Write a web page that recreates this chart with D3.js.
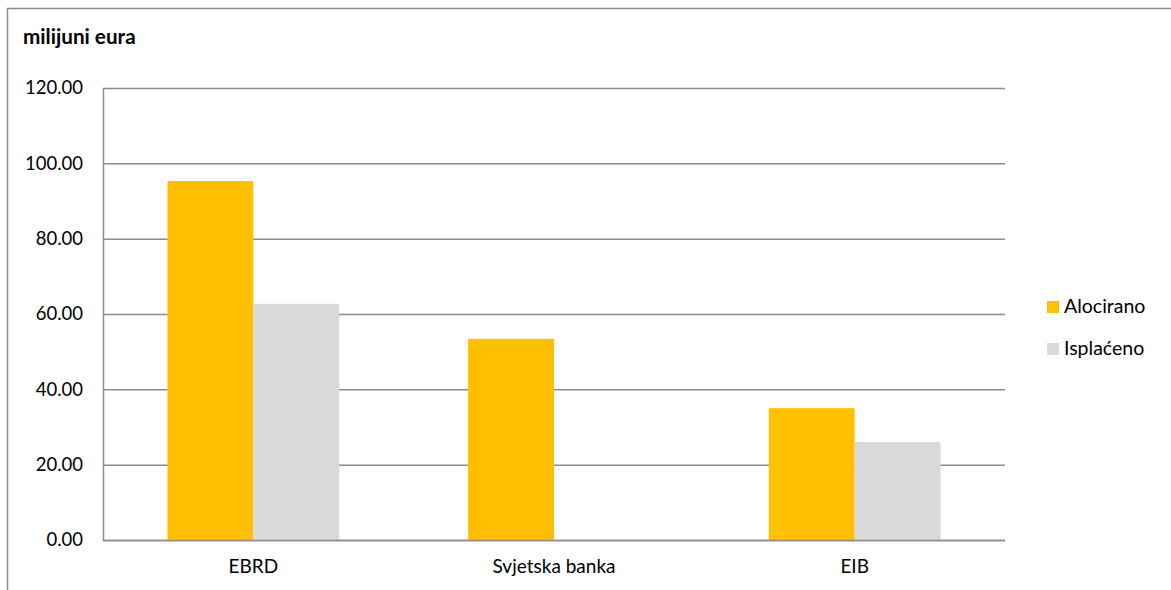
<!DOCTYPE html>
<html><head><meta charset="utf-8">
<script src="https://cdn.jsdelivr.net/npm/d3@7"></script>
<style>body{margin:0;background:#fff}svg{display:block;font-family:Lato,"Open Sans",sans-serif}</style>
</head><body><svg id="c" width="1171" height="590"></svg>
<script>
const categories = ["EBRD", "Svjetska banka", "EIB"];
const seriesNames = ["Alocirano", "Isplaćeno"];
const alocirano = [95.3, 53.4, 35.0];
const isplaceno = [62.7, 0, 26.0];
const yTicks = [0, 20, 40, 60, 80, 100, 120];
const colors = ["#FFC000", "#D9D9D9"];

const svg = d3.select("#c");
const m = {l:103, r:1005, t:88, b:540};
// outer frame (left + top)
svg.append("path").attr("d","M7.5,590 V8.5 H1171").attr("fill","none").attr("stroke","#8c8c8c").attr("stroke-width",1.5);

const y = d3.scaleLinear().domain([0,120]).range([m.b,m.t]);
const x = d3.scaleBand().domain(categories).range([m.l,m.r]);
const xs = d3.scaleBand().domain(seriesNames).range([0,x.bandwidth()]).paddingInner(0).paddingOuter(0.75);

// gridlines
svg.append("g").selectAll("line").data(yTicks).join("line")
  .attr("x1",m.l).attr("x2",m.r).attr("y1",d=>y(d)+0.5).attr("y2",d=>y(d)+0.5)
  .attr("stroke","#8c8c8c").attr("stroke-width",1.5);

const data = categories.map((c,i)=>({c, vals:[alocirano[i], isplaceno[i]]}));
const g = svg.append("g");
data.forEach(d=>{
  d.vals.forEach((v,j)=>{
    if(v<=0) return;
    g.append("rect").attr("x",x(d.c)+xs(seriesNames[j])).attr("width",xs.bandwidth())
      .attr("y",y(v)).attr("height",y(0)-y(v)).attr("fill",colors[j]);
  });
});
// axis lines
svg.append("line").attr("x1",m.l+0.5).attr("x2",m.l+0.5).attr("y1",m.t).attr("y2",m.b+1).attr("stroke","#8c8c8c").attr("stroke-width",1.5);
svg.append("line").attr("x1",m.l).attr("x2",m.r).attr("y1",m.b+0.5).attr("y2",m.b+0.5).attr("stroke","#8c8c8c").attr("stroke-width",1.5);

// y tick labels
const yAxis = d3.axisLeft(y).tickValues(yTicks).tickFormat(d3.format(".2f")).tickSize(0).tickPadding(0);
const ya = svg.append("g").attr("transform",`translate(${m.l-20},0)`).call(yAxis);
ya.select(".domain").remove();
ya.selectAll("text").attr("font-size",18.5).attr("fill","#000").attr("font-family","Lato,'Open Sans',sans-serif");

// x labels
const xAxis = d3.axisBottom(x).tickSize(0).tickPadding(0);
const xa = svg.append("g").attr("transform",`translate(0,${m.b+19})`).call(xAxis);
xa.select(".domain").remove();
xa.selectAll("text").attr("font-size",19).attr("fill","#000").attr("font-family","Lato,'Open Sans',sans-serif");

// title
svg.append("text").attr("x",23).attr("y",44).attr("font-size",20.7).attr("font-weight","bold").text("milijuni eura");

// legend
const lg = svg.append("g").attr("transform","translate(1047,301)");
seriesNames.forEach((s,i)=>{
  lg.append("rect").attr("x",0).attr("y",i*42).attr("width",12).attr("height",12).attr("fill",colors[i]);
  lg.append("text").attr("x",17).attr("y",i*42+12).attr("font-size",19.5).text(s);
});
</script></body></html>
